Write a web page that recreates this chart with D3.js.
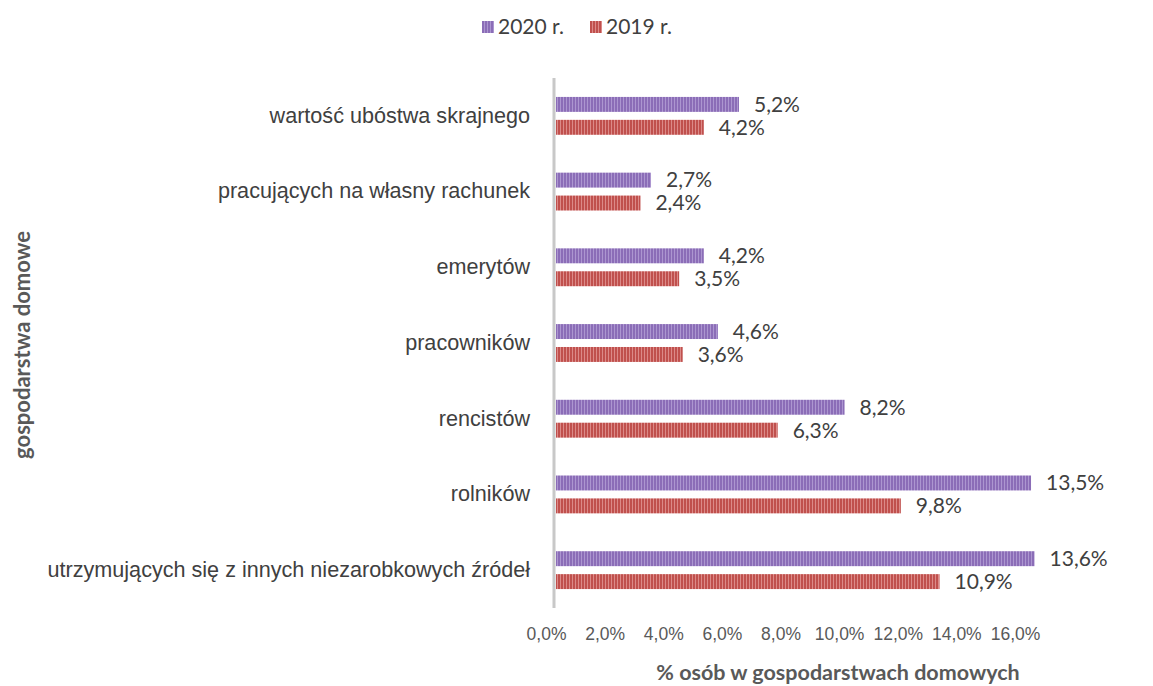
<!DOCTYPE html>
<meta charset="utf-8">
<style>
body { margin: 0; background: #fff; }
svg { display: block; font-family: Lato, "Open Sans", sans-serif; }
.axis path, .axis line { display: none; }
.axis text { fill: #595959; font-size: 17.5px; }
</style>
<body>
<div id="chart"></div>
<script src="https://cdnjs.cloudflare.com/ajax/libs/d3/7.8.5/d3.min.js"></script>
<script>
// data
var categories = [
    "wartość ubóstwa skrajnego",
    "pracujących na własny rachunek",
    "emerytów",
    "pracowników",
    "rencistów",
    "rolników",
    "utrzymujących się z innych niezarobkowych źródeł"
];
var series = ["2020 r.", "2019 r."];
var values2020 = [5.2, 2.7, 4.2, 4.6, 8.2, 13.5, 13.6];
var values2019 = [4.2, 2.4, 3.5, 3.6, 6.3, 9.8, 10.9];
var tickValues = [0, 2, 4, 6, 8, 10, 12, 14, 16];

var width = 1153, height = 686;
var colors = { "2020 r.": ["#8b6db7", "#ac96d0"], "2019 r.": ["#c0504d", "#dc8a88"] };

var svg = d3.select("#chart").append("svg")
    .attr("width", width)
    .attr("height", height);

// vertical stripe fills
var defs = svg.append("defs");
series.forEach(function(s, i) {
    var p = defs.append("pattern")
        .attr("id", "pat" + i)
        .attr("patternUnits", "userSpaceOnUse")
        .attr("width", 3).attr("height", 10);
    p.append("rect").attr("width", 3).attr("height", 10).attr("fill", colors[s][0]);
    p.append("rect").attr("x", 2).attr("width", 1).attr("height", 10).attr("fill", colors[s][1]);
});

// bars
var x = d3.scaleLinear().domain([0, 16]).range([556, 1119]);
// tick labels sit a bit narrower than the bars in the original
var xTicks = d3.scaleLinear().domain([0, 16]).range([546, 1015]);

var y = d3.scaleBand().domain(categories).range([78, 608]).paddingInner(0.5).paddingOuter(0.25);
var ySub = d3.scaleBand().domain(series).range([0, y.bandwidth()]).paddingInner(0.348);

var rows = categories.map(function(c, i) {
    return { cat: c, vals: [{ s: series[0], v: values2020[i] }, { s: series[1], v: values2019[i] }] };
});

var g = svg.selectAll(".row").data(rows).enter().append("g")
    .attr("class", "row")
    .attr("transform", function(d) { return "translate(0," + y(d.cat) + ")"; });

g.selectAll("rect").data(function(d) { return d.vals; }).enter().append("rect")
    .attr("x", x(0))
    .attr("y", function(d) { return ySub(d.s); })
    .attr("width", function(d) { return x(d.v) - x(0); })
    .attr("height", ySub.bandwidth())
    .attr("fill", function(d, i) { return "url(#pat" + i + ")"; });

g.selectAll("text.val").data(function(d) { return d.vals; }).enter().append("text")
    .attr("class", "val")
    .attr("x", function(d) { return x(d.v) + 15; })
    .attr("y", function(d) { return ySub(d.s) + ySub.bandwidth() / 2; })
    .attr("dy", "0.35em")
    .attr("fill", "#404040")
    .attr("font-size", 21)
    .text(function(d) { return d.v.toFixed(1).replace(".", ",") + "%"; });

// category axis
var yAxis = d3.axisLeft(y).tickSize(0).tickPadding(0);
svg.append("g")
    .attr("class", "axis")
    .attr("transform", "translate(530,0)")
    .call(yAxis)
    .selectAll("text").style("font-size", "21.6px").style("fill", "#404040");

svg.append("line")
    .attr("x1", 554).attr("x2", 554)
    .attr("y1", 78).attr("y2", 608)
    .attr("stroke", "#c8c8c8").attr("stroke-width", 3);

var xAxis = d3.axisBottom(xTicks).tickValues(tickValues).tickSize(0).tickPadding(0)
    .tickFormat(function(d) { return d.toFixed(1).replace(".", ",") + "%"; });
svg.append("g")
    .attr("class", "axis")
    .attr("transform", "translate(0,628)")
    .call(xAxis);

// axis titles
svg.append("text")
    .attr("x", 838).attr("y", 680)
    .attr("text-anchor", "middle")
    .attr("font-size", 21.5).attr("font-weight", "bold").attr("fill", "#595959")
    .text("% osób w gospodarstwach domowych");

svg.append("text")
    .attr("transform", "translate(30,345) rotate(-90)")
    .attr("text-anchor", "middle")
    .attr("font-size", 22).attr("font-weight", "bold").attr("fill", "#595959")
    .text("gospodarstwa domowe");

// legend
var leg = svg.append("g").attr("transform", "translate(482,21)");
var items = leg.selectAll("g").data(series).enter().append("g")
    .attr("transform", function(d, i) { return "translate(" + (i * 108) + ",0)"; });
items.append("rect").attr("width", 12).attr("height", 12)
    .attr("fill", function(d, i) { return "url(#pat" + i + ")"; });
items.append("text").attr("x", 16).attr("y", 6).attr("dy", "0.35em")
    .attr("font-size", 21).attr("fill", "#404040")
    .text(function(d) { return d; });
</script>
</body>
